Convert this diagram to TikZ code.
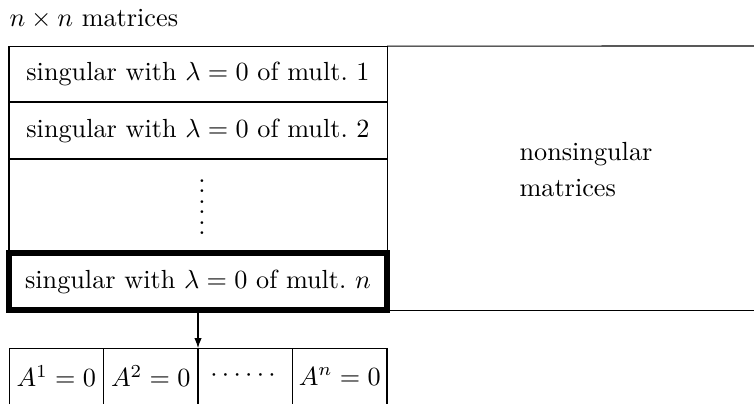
\documentclass[tikz,border=0pt]{standalone}
\usepackage{amsmath,amssymb}
\usepackage{tikz}
\usetikzlibrary{arrows.meta}

\begin{document}
\begin{tikzpicture}[
  font=\normalsize,
  rowbox/.style={draw, line width=0.4pt, inner sep=0pt, outer sep=0pt,
                 minimum width=5.069cm, align=center},
  multbox/.style={rowbox, line width=2.3pt},
  cellbox/.style={inner sep=0pt, outer sep=0pt, minimum width=1.267cm,
                  minimum height=0.751cm},
  downarrow/.style={-{Latex[length=3.8pt, width=2.8pt]}, line width=0.4pt},
]
\useasboundingbox (0,0) rectangle (10.11,5.418);

% =================================================================
%  TITLE
% =================================================================
\node[anchor=base west, inner sep=0pt] (title) at (0.121, 5.069)
  {$n \times n$ matrices};

% =================================================================
%  LEFT COLUMN -- SINGULAR MATRICES
% =================================================================
\node[rowbox, minimum height=0.751cm] (mult1) at (2.655, 4.425)
  {singular with $\lambda = 0$ of mult.\ 1};

\node[rowbox, minimum height=0.764cm] (mult2) at (2.655, 3.668)
  {singular with $\lambda = 0$ of mult.\ 2};

\node[rowbox, minimum height=1.261cm] (multdots) at (2.655, 2.655) {};

\node[inner sep=0pt] (vdots) at (2.709, 2.642)
  {\vbox{\baselineskip=4pt \lineskiplimit=0pt
         \hbox{.}\hbox{.}\hbox{.}\hbox{.}\hbox{.}\hbox{.}}};

\node[multbox, minimum height=0.764cm] (multn) at (2.655, 1.643)
  {singular with $\lambda = 0$ of mult.\ $n$};

% =================================================================
%  RIGHT PART -- NONSINGULAR MATRICES
% =================================================================
\coordinate (rtop) at (10.11, 4.801);
\coordinate (rbot) at (10.11, 1.261);

\node[anchor=west, align=left, inner sep=0pt] (nonsing) at (6.96, 3.145)
  {nonsingular\\[2pt] matrices};

\draw (mult1.north east) -- (rtop);
\draw (multn.south east) -- (rbot);

% =================================================================
%  BOTTOM ROW -- POWERS
% =================================================================
\node[cellbox] (pow1) at (0.7545, 0.375) {$A^1 = 0$};
\node[cellbox] (pow2) at (2.0215, 0.375) {$A^2 = 0$};
\node[cellbox] (powdots) at (3.2885, 0.375) {$\cdots\cdots$};
\node[cellbox] (pown) at (4.5555, 0.375) {$A^n = 0$};

\draw (pow1.south west) -- (pow1.north west) -- (pown.north east)
      -- (pown.south east);
\draw (pow2.north west) -- (pow2.south west);
\draw (powdots.north west) -- (powdots.south west);
\draw (pown.north west) -- (pown.south west);

% =================================================================
%  ARROW
% =================================================================
\draw[downarrow] (multn.south) -- (powdots.north west);

\end{tikzpicture}
\end{document}
